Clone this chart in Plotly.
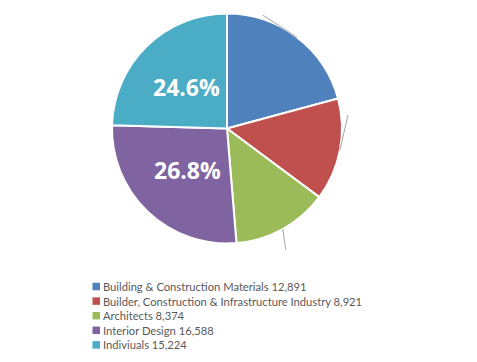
import math
import plotly.graph_objects as go

categories = ["Building & Construction Materials", "Builder, Construction & Infrastructure Industry",
              "Architects", "Interior Design", "Indiviuals"]
values = [12891, 8921, 8374, 16588, 15224]
show_pct = [False, False, False, True, True]
colors = ["#4F81BD", "#C0504D", "#9BBB59", "#8064A2", "#4BACC6"]

OFF = 8  # page body margin
W, H = 477 - OFF, 362 - OFF
cx, cy, r = 227 - OFF, 128.5 - OFF, 115
# leader-line offsets (pixels) for the hidden outside labels
leader = [(-34, -22), (8, -35), (3, 21), None, None]
label_frac = 0.5  # inside label distance as fraction of radius
# legend layout (pixels)
leg_x, leg_y0, leg_dy, sq = 92.5 - OFF, 286.5 - OFF, 14.6, 7.5

labels = [f"{c} {v:,}" for c, v in zip(categories, values)]

fig = go.Figure(go.Pie(
    labels=labels, values=values, sort=False, direction="clockwise", rotation=0,
    marker=dict(colors=colors, line=dict(color="white", width=2)),
    textinfo="none", hoverinfo="label+percent", showlegend=False,
    domain=dict(x=[(cx - r) / W, (cx + r) / W], y=[1 - (cy + r) / H, 1 - (cy - r) / H]),
))

total = sum(values)
cum = 0
shapes = []
annotations = []
for v, off, show in zip(values, leader, show_pct):
    mid = (cum + v / 2) / total * 2 * math.pi
    cum += v
    if show:
        tx = cx + label_frac * r * math.sin(mid)
        ty = cy - label_frac * r * math.cos(mid)
        annotations.append(dict(text=f"{v / total * 100:.1f}%", xref="paper", yref="paper",
                                x=tx / W, y=1 - ty / H, xanchor="center", yanchor="middle",
                                showarrow=False,
                                font=dict(family="Open Sans", size=23, color="white", weight="bold")))
    if off is None:
        continue
    px = cx + r * math.sin(mid)
    py = cy - r * math.cos(mid)
    shapes.append(dict(type="line", xref="paper", yref="paper",
                       x0=px / W, y0=1 - py / H, x1=(px + off[0]) / W, y1=1 - (py + off[1]) / H,
                       line=dict(color="#A6A6A6", width=1)))

for i, (lab, col) in enumerate(zip(labels, colors)):
    yc = leg_y0 + i * leg_dy
    shapes.append(dict(type="rect", xref="paper", yref="paper",
                       x0=leg_x / W, x1=(leg_x + sq) / W,
                       y0=1 - (yc - sq / 2) / H, y1=1 - (yc + sq / 2) / H,
                       fillcolor=col, line=dict(width=0)))
    annotations.append(dict(text=lab, xref="paper", yref="paper", x=(leg_x + sq + 1) / W,
                            y=1 - yc / H, xanchor="left", yanchor="middle", showarrow=False,
                            font=dict(family="Lato", size=11.2, color="#595959")))

fig.update_layout(
    width=W, height=H, margin=dict(l=0, r=0, t=0, b=0, autoexpand=False),
    paper_bgcolor="white", plot_bgcolor="white",
    shapes=shapes, annotations=annotations, showlegend=False,
)
fig.write_html("out.html")
